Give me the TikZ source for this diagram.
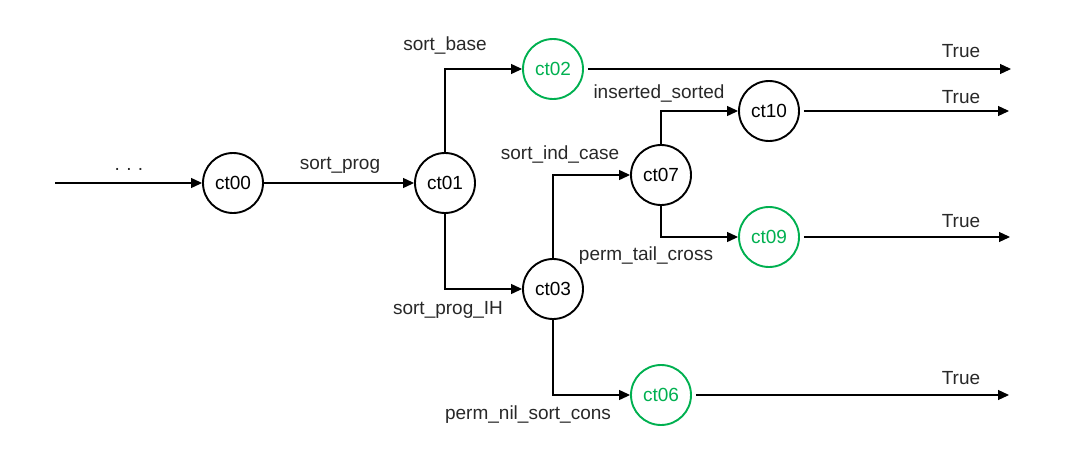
\documentclass[tikz,border=0pt]{standalone}
\usepackage{fontspec}
\setmainfont{Liberation Sans}
\usetikzlibrary{arrows.meta}
\definecolor{okgreen}{RGB}{0,176,80}
\definecolor{labgray}{RGB}{40,40,40}
\begin{document}
\begin{tikzpicture}[x=1pt,y=-1pt,
  st/.style={circle,draw,line width=1.9pt,minimum size=60pt,inner sep=0pt,font=\fontsize{19}{21}\selectfont},
  ok/.style={st,draw=okgreen,text=okgreen},
  edge/.style={line width=1.2pt,-{Triangle[length=11pt,width=10pt]}},
  lab/.style={font=\fontsize{19}{21}\selectfont,text=labgray,inner sep=0pt}]
\useasboundingbox (0,0) rectangle (1086,455);
\node[st] (ct00) at (233,183) {ct00};
\node[st] (ct01) at (445,183) {ct01};
\node[ok] (ct02) at (553,69) {ct02};
\node[st] (ct03) at (553,289) {ct03};
\node[st] (ct07) at (661,175) {ct07};
\node[st] (ct10) at (769,111) {ct10};
\node[ok] (ct09) at (769,237) {ct09};
\node[ok] (ct06) at (661,395) {ct06};
\coordinate (in) at (55,183);
\coordinate (t02) at (1011,69);
\coordinate (t10) at (1009,111);
\coordinate (t09) at (1010,238);
\coordinate (t06) at (1009,395);
\draw[edge] (in) -- (ct00);
\draw[edge] (ct00) -- (ct01);
\draw[edge] (ct01.north) |- (ct02.west);
\draw[edge] (ct01.south) |- (ct03.west);
\draw[edge] (ct03.north) |- (ct07.west);
\draw[edge] (ct03.south) |- (ct06.west);
\draw[edge] (ct07.north) |- (ct10.west);
\draw[edge] (ct07.south) |- (ct09.west);
\draw[edge] ([xshift=4pt]ct02.east) -- (t02);
\draw[edge] ([xshift=4pt]ct10.east) -- (t10);
\draw[edge] ([xshift=4pt]ct09.east) -- (t09|-ct09.east);
\draw[edge] ([xshift=4pt]ct06.east) -- (t06);
\node[lab] (l0) at (129,169) {.\,\,.\,\,.};
\node[lab] (l1) at (340,165) {sort\_prog};
\node[lab] (l2) at (445,46) {sort\_base};
\node[lab] (l3) at (448,310) {sort\_prog\_IH};
\node[lab] (l4) at (560,155) {sort\_ind\_case};
\node[lab] (l5) at (528,415) {perm\_nil\_sort\_cons};
\node[lab] (l6) at (659,94) {inserted\_sorted};
\node[lab] (l7) at (646,256) {perm\_tail\_cross};
\node[lab] (r1) at (961,51) {True};
\node[lab] (r2) at (961,97) {True};
\node[lab] (r3) at (961,221) {True};
\node[lab] (r4) at (961,378) {True};
\end{tikzpicture}
\end{document}
